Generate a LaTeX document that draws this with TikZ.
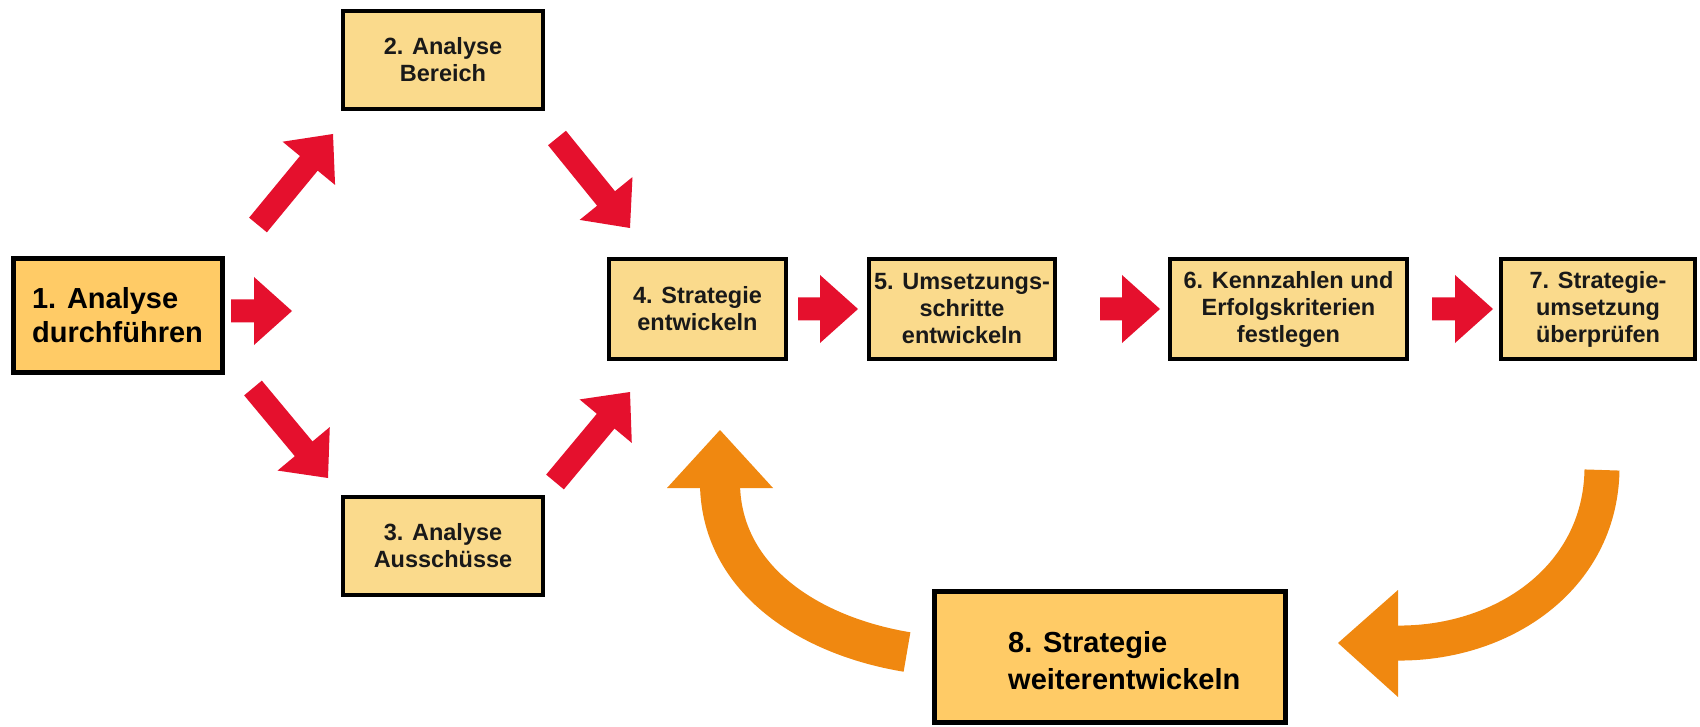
\documentclass[tikz,border=0pt]{standalone}
\usepackage{fontspec}
\setmainfont{Liberation Sans}
\usetikzlibrary{calc}
\definecolor{boxlight}{RGB}{250,218,140}
\definecolor{boxdark}{RGB}{255,203,102}
\definecolor{arrowred}{RGB}{229,16,45}
\definecolor{loopor}{RGB}{240,136,16}
\newcommand\redarrow[2]{%
  \coordinate (hb) at ($(#2)!38pt!(#1)$);
  \fill[arrowred] ($(#1)!11.5pt!90:(#2)$) -- ($(hb)!11.5pt!90:(#2)$) -- ($(hb)!34pt!90:(#2)$) -- (#2)
    -- ($(hb)!34pt!-90:(#2)$) -- ($(hb)!11.5pt!-90:(#2)$) -- ($(#1)!11.5pt!-90:(#2)$) -- cycle;
}
\tikzset{
  box/.style={draw=black, line width=4.5pt, fill=boxlight, align=center, inner sep=0pt,
    font=\fontsize{23.5}{27}\selectfont\bfseries, text=black!90},
  mainbox/.style={box, fill=boxdark, line width=5pt, font=\fontsize{29}{34}\selectfont\bfseries, text=black},
  loop/.style={draw=loopor, line cap=butt},
}
\begin{document}
\begin{tikzpicture}[x=1pt,y=-1pt]
\useasboundingbox[fill=white] (0,0) rectangle (1700,727);

% boxes
\node[mainbox, align=left, minimum width=209pt, minimum height=113pt] (n1) at (117.5,315.5) {1. Analyse\\durchführen};
\node[box, minimum width=200pt, minimum height=98pt] (n2) at (443,60) {2. Analyse\\Bereich};
\node[box, minimum width=200pt, minimum height=98pt] (n3) at (443,546) {3. Analyse\\Ausschüsse};
\node[box, minimum width=177pt, minimum height=100pt] (n4) at (697.5,309) {4. Strategie\\entwickeln};
\node[box, minimum width=186pt, minimum height=100pt] (n5) at (962,309) {5. Umsetzungs-\\schritte\\entwickeln};
\node[box, minimum width=237pt, minimum height=100pt] (n6) at (1288.5,309) {6. Kennzahlen und\\Erfolgskriterien\\festlegen};
\node[box, minimum width=194pt, minimum height=100pt] (n7) at (1598,309) {7. Strategie-\\umsetzung\\überprüfen};
\node[mainbox, minimum width=351pt, minimum height=131pt] (n8) at (1109.5,656.5) {};
\node[anchor=west, align=left, inner sep=0pt, font=\fontsize{29}{37}\selectfont\bfseries] (t8) at (1008,661) {8. Strategie\\weiterentwickeln};

% red arrows
\coordinate (r1s) at (231,311);  \coordinate (r1e) at (292,311);
\coordinate (r45s) at (798,309); \coordinate (r45e) at (858,309);
\coordinate (r56s) at (1100,309); \coordinate (r56e) at (1160,309);
\coordinate (r67s) at (1432,309); \coordinate (r67e) at (1493,309);
\coordinate (r12s) at (258,225); \coordinate (r12e) at (333,134);
\coordinate (r24s) at (557,138); \coordinate (r24e) at (630,228);
\coordinate (r13s) at (253,388); \coordinate (r13e) at (328,478);
\coordinate (r34s) at (555,482); \coordinate (r34e) at (630,392);
\redarrow{r1s}{r1e}
\redarrow{r45s}{r45e}
\redarrow{r56s}{r56e}
\redarrow{r67s}{r67e}
\redarrow{r12s}{r12e}
\redarrow{r24s}{r24e}
\redarrow{r13s}{r13e}
\redarrow{r34s}{r34e}

% orange loop arrows
\coordinate (o1s) at (907,652); \coordinate (o1e) at (720,485); \coordinate (o1t) at (720,430);
\draw[loop, line width=40pt] (o1s) .. controls (810,636) and (722,580) .. (o1e);
\fill[loopor] (667,488) -- (773,488) -- (o1t) -- cycle;

\coordinate (o2s) at (1602,470); \coordinate (o2e) at (1395,643); \coordinate (o2t) at (1338,643);
\draw[loop, line width=35pt] (o2s) .. controls (1600,580) and (1500,645) .. (o2e);
\fill[loopor] (1398,590) -- (1398,697) -- (o2t) -- cycle;
\end{tikzpicture}
\end{document}
